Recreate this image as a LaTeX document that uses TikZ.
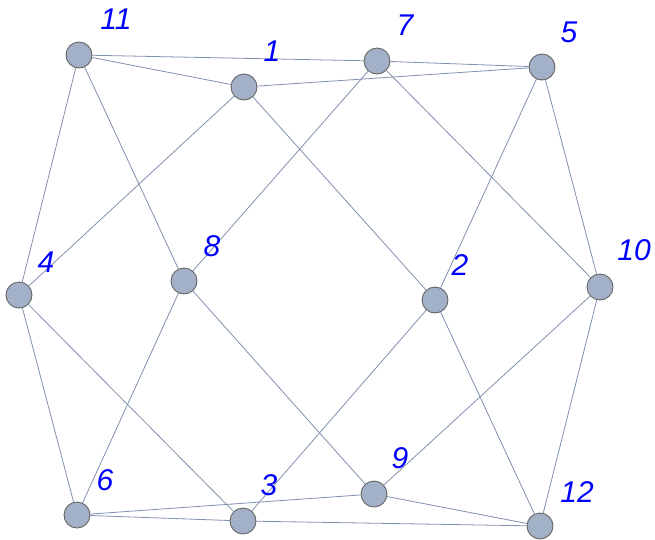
\documentclass[tikz,border=0pt]{standalone}
\usepackage{fontspec}
\setmainfont{Liberation Sans}
\definecolor{edgec}{RGB}{128,144,176}
\definecolor{nodefill}{RGB}{163,177,200}
\definecolor{nodeline}{RGB}{100,100,100}
\definecolor{labc}{RGB}{0,0,255}
\tikzset{
  vtx/.style={circle,draw=nodeline,fill=nodefill,line width=0.9pt,minimum size=26pt,inner sep=0pt},
  lab/.style={text=labc,font=\fontsize{30}{30}\selectfont\itshape,inner sep=0pt},
  edge/.style={draw=edgec,line width=0.8pt}
}
\begin{document}
\begin{tikzpicture}[x=1pt,y=-1pt]
\useasboundingbox (0,0) rectangle (655,539);
\node[vtx] (n11) at (79,55) {};
\node[vtx] (n1) at (244,87) {};
\node[vtx] (n7) at (377,61) {};
\node[vtx] (n5) at (542,67) {};
\node[vtx] (n4) at (19,295) {};
\node[vtx] (n8) at (184,281) {};
\node[vtx] (n2) at (435,300) {};
\node[vtx] (n10) at (600,287) {};
\node[vtx] (n6) at (77,515) {};
\node[vtx] (n3) at (243,521) {};
\node[vtx] (n9) at (374,494) {};
\node[vtx] (n12) at (540,526) {};
\foreach \a/\b in {11/7,11/1,11/4,11/8,1/5,1/4,1/2,7/5,7/8,7/10,5/2,5/10,4/6,4/3,8/6,8/9,2/3,2/12,10/9,10/12,6/9,6/3,3/12,9/12}
  \draw[edge] (n\a) -- (n\b);
\node[lab] (l11) at (116,19) {11};
\node[lab] (l1) at (272,51) {1};
\node[lab] (l7) at (405,25) {7};
\node[lab] (l5) at (569,32) {5};
\node[lab] (l4) at (46,262) {4};
\node[lab] (l8) at (212,246) {8};
\node[lab] (l2) at (460,265) {2};
\node[lab] (l10) at (634,250) {10};
\node[lab] (l6) at (105,480) {6};
\node[lab] (l3) at (269,485) {3};
\node[lab] (l9) at (400,458) {9};
\node[lab] (l12) at (577,492) {12};
\end{tikzpicture}
\end{document}
